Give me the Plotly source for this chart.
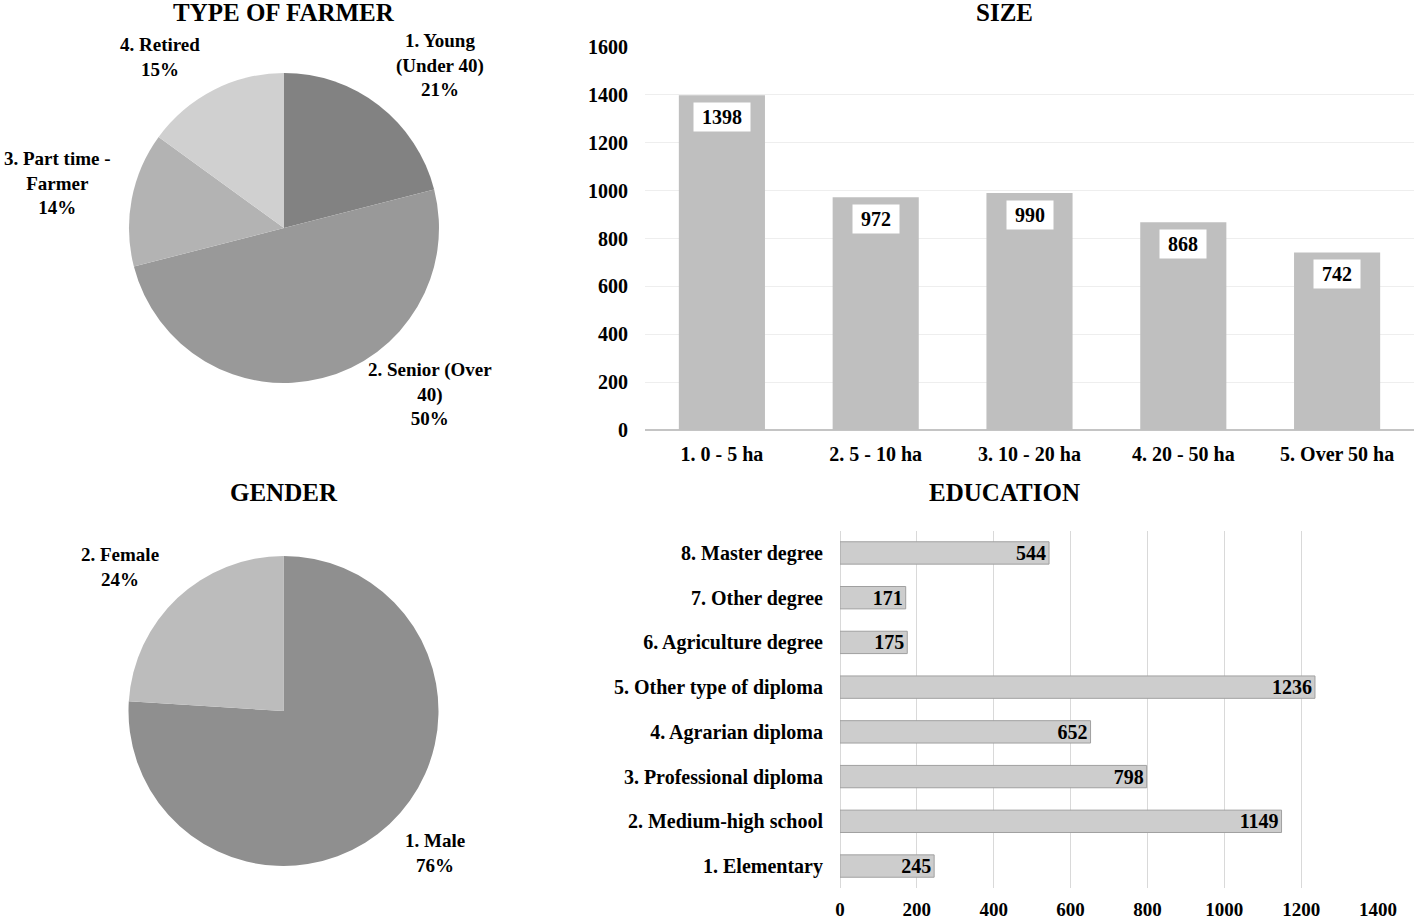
import plotly.graph_objects as go

# ---- data ----
farmer_labels = ["1. Young<br>(Under 40)", "2. Senior (Over<br>40)", "3. Part time -<br>Farmer", "4. Retired"]
farmer_values = [21, 50, 14, 15]
farmer_colors = ["#828282", "#999999", "#b3b3b3", "#d0d0d0"]

gender_labels = ["1. Male", "2. Female"]
gender_values = [76, 24]
gender_colors = ["#8f8f8f", "#bcbcbc"]

size_cats = ["1. 0 - 5 ha", "2. 5 - 10 ha", "3. 10 - 20 ha", "4. 20 - 50 ha", "5. Over 50 ha"]
size_vals = [1398, 972, 990, 868, 742]

edu_cats = ["1. Elementary", "2. Medium-high school", "3. Professional diploma", "4. Agrarian diploma",
            "5. Other type of diploma", "6. Agriculture degree", "7. Other degree", "8. Master degree"]
edu_vals = [245, 1149, 798, 652, 1236, 175, 171, 544]

# ---- layout helpers (pixel positions of label blocks, layout only) ----
W, H = 1416, 923
FONT = "Liberation Serif"
farmer_label_pos = [(440, 65), (430, 394), (58, 183), (160, 57)]
gender_label_pos = [(435, 853), (120, 567)]


def px_x(p):
    return p / W


def px_y(p):
    return 1 - p / H


fig = go.Figure()

fig.add_trace(go.Pie(
    labels=farmer_labels, values=farmer_values, sort=False, direction="clockwise", rotation=0,
    marker=dict(colors=farmer_colors, line=dict(width=0)),
    textinfo="none",
    domain=dict(x=[px_x(129), px_x(439)], y=[px_y(383), px_y(73)]),
    showlegend=False, hoverinfo="label+percent",
))

fig.add_trace(go.Pie(
    labels=gender_labels, values=gender_values, sort=False, direction="clockwise", rotation=0,
    marker=dict(colors=gender_colors, line=dict(width=0)),
    textinfo="none",
    domain=dict(x=[px_x(128), px_x(439)], y=[px_y(866), px_y(556)]),
    showlegend=False, hoverinfo="label+percent",
))

fig.add_trace(go.Bar(
    x=size_cats, y=size_vals, marker=dict(color="#bfbfbf", line=dict(width=0)),
    width=0.56, xaxis="x", yaxis="y", showlegend=False,
))

fig.add_trace(go.Bar(
    y=edu_cats, x=edu_vals, orientation="h",
    marker=dict(color="#cdcdcd", line=dict(color="#a0a0a0", width=1)),
    width=0.5, xaxis="x2", yaxis="y2", showlegend=False,
    text=edu_vals, textposition="inside", insidetextanchor="end", constraintext="none",
    textfont=dict(family=FONT, size=20, color="black", weight="bold"),
))

annotations = []
label_font = dict(family=FONT, size=19, color="black", weight="bold")

for labels, values, positions in [(farmer_labels, farmer_values, farmer_label_pos),
                                  (gender_labels, gender_values, gender_label_pos)]:
    total = sum(values)
    for lab, v, (x, y) in zip(labels, values, positions):
        annotations.append(dict(
            x=px_x(x), y=px_y(y), xref="paper", yref="paper",
            text=f"{lab}<br>{round(v / total * 100)}%", showarrow=False,
            xanchor="center", yanchor="middle", align="center", font=label_font,
        ))

for c, v in zip(size_cats, size_vals):
    annotations.append(dict(
        x=c, y=v, xref="x", yref="y", text="\u00a0" + str(v) + "\u00a0", showarrow=False,
        yanchor="top", yshift=-7, bgcolor="white", borderpad=3,
        font=dict(family=FONT, size=20, color="black", weight="bold"),
    ))

titles = [("TYPE OF FARMER", 284, 13), ("SIZE", 1004, 13), ("GENDER", 284, 492), ("EDUCATION", 1004, 492)]
for t, x, y in titles:
    annotations.append(dict(
        x=px_x(x), y=px_y(y), xref="paper", yref="paper", text=t, showarrow=False,
        xanchor="center", yanchor="middle",
        font=dict(family=FONT, size=25, color="black", weight="bold"),
    ))

tickfont = dict(family=FONT, size=20, color="black", weight="bold")
tickfont_bottom = dict(family=FONT, size=19, color="black", weight="bold")

fig.update_layout(
    width=W, height=H, margin=dict(l=0, r=0, t=0, b=0, autoexpand=False),
    paper_bgcolor="white", plot_bgcolor="white",
    font=dict(family=FONT, color="black"),
    xaxis=dict(domain=[px_x(645), px_x(1414)], showgrid=False, tickfont=tickfont,
               ticks="", ticklabelstandoff=10, showline=False, automargin=False),
    yaxis=dict(domain=[px_y(430), px_y(47)], range=[0, 1600], dtick=200, gridcolor="#eeeeee",
               zeroline=True, zerolinecolor="#c4c4c4", zerolinewidth=2, tickfont=tickfont,
               ticklabelstandoff=16, showline=False, automargin=False),
    xaxis2=dict(domain=[px_x(840), px_x(1378)], range=[0, 1400], dtick=200, gridcolor="#d9d9d9",
                zeroline=True, zerolinecolor="#d9d9d9", zerolinewidth=1, tickfont=tickfont_bottom,
                anchor="y2", ticklabelstandoff=8, showline=False, automargin=False),
    yaxis2=dict(domain=[px_y(888.4), px_y(530.6)], range=[-0.5, 7.5], anchor="x2",
                showgrid=False, tickfont=tickfont, ticklabelstandoff=16, showline=False,
                automargin=False),
    annotations=annotations,
)

fig.write_html(
    "out.html",
    config={"displayModeBar": False},
    post_script="document.body.style.margin='0';document.body.style.overflow='hidden';",
)
